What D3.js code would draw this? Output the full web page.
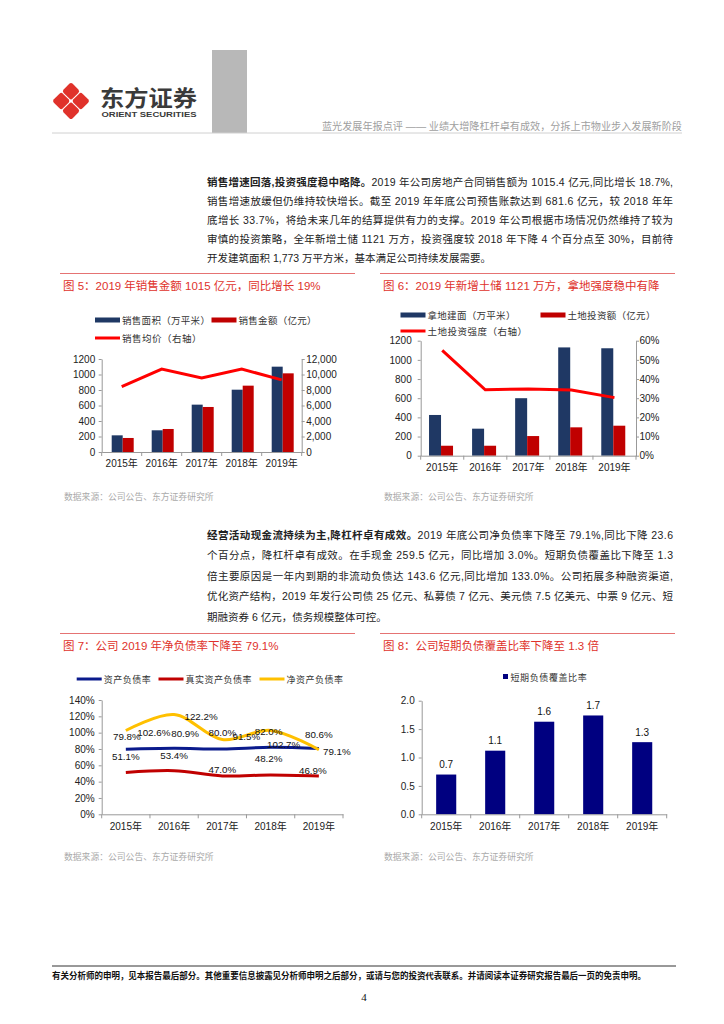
<!DOCTYPE html>
<html>
<head>
<meta charset="utf-8">
<script src="https://cdn.jsdelivr.net/npm/d3@7.9.0/dist/d3.min.js"></script>
<style>
  body { margin: 0; background: #fff; }
  svg { display: block; font-family: "Liberation Sans", Arial, "Noto Sans CJK SC", sans-serif; }
</style>
</head>
<body>
<svg id="page" width="724" height="1024"></svg>
<script>
// ---- data ----
const years = ['2015年', '2016年', '2017年', '2018年', '2019年'];

// fig 5
const salesArea = [215, 280, 611, 804, 1101];      // 万平米
const salesAmount = [181, 297, 581, 856, 1015];    // 亿元
const salesPrice = [8450, 10700, 9550, 10700, 9300]; // 元/平米, right axis

// fig 6
const landArea = [425, 282, 600, 1130, 1121];
const landInvest = [104, 104, 205, 296, 313];
const landIntensity = [0.55, 0.344, 0.348, 0.343, 0.303];

// fig 7
const debtRatio = [79.8, 80.9, 80.0, 82.0, 80.6];
const realDebtRatio = [51.1, 53.4, 47.0, 48.2, 46.9];
const netDebtRatio = [102.6, 122.2, 91.5, 102.7, 79.1];

// fig 8
const coverage = [0.70, 1.12, 1.63, 1.74, 1.27];

const para1 = [
  [['销售增速回落,投资强度稳中略降。', true], ['2019 年公司房地产合同销售额为 1015.4 亿元,同比增长 18.7%,', false]],
  [['销售增速放缓但仍维持较快增长。截至 2019 年年底公司预售账款达到 681.6 亿元，较 2018 年年', false]],
  [['底增长 33.7%，将给未来几年的结算提供有力的支撑。2019 年公司根据市场情况仍然维持了较为', false]],
  [['审慎的投资策略，全年新增土储 1121 万方，投资强度较 2018 年下降 4 个百分点至 30%，目前待', false]],
  [['开发建筑面积 1,773 万平方米，基本满足公司持续发展需要。', false]],
];
const para2 = [
  [['经营活动现金流持续为主,降杠杆卓有成效。', true], ['2019 年底公司净负债率下降至 79.1%,同比下降 23.6', false]],
  [['个百分点，降杠杆卓有成效。在手现金 259.5 亿元，同比增加 3.0%。短期负债覆盖比下降至 1.3', false]],
  [['倍主要原因是一年内到期的非流动负债达 143.6 亿元,同比增加 133.0%。公司拓展多种融资渠道,', false]],
  [['优化资产结构，2019 年发行公司债 25 亿元、私募债 7 亿元、美元债 7.5 亿美元、中票 9 亿元、短', false]],
  [['期融资券 6 亿元，债务规模整体可控。', false]],
];

const svg = d3.select('#page');
const AXIS = '#999';
const TITLE_RED = '#E0322B';

function renderHeader() {
  const logo = svg.append('g').attr('transform', 'translate(71,101)');
  [[0, -1], [1, 0], [0, 1], [-1, 0]].forEach(([dx, dy]) => {
    logo.append('rect')
      .attr('x', -6.4).attr('y', -6.4).attr('width', 12.8).attr('height', 12.8)
      .attr('rx', 2.4)
      .attr('fill', '#E0322B')
      .attr('transform', `translate(${dx * 9.8},${dy * 9.8}) rotate(45)`);
  });
  svg.append('text').attr('x', 100).attr('y', 106)
    .attr('font-size', 22).attr('font-weight', 'bold').attr('fill', '#3a3a3a')
    .attr('textLength', 97).attr('lengthAdjust', 'spacingAndGlyphs')
    .text('东方证券');
  svg.append('text').attr('x', 101.5).attr('y', 117)
    .attr('font-size', 8).attr('font-weight', 'bold').attr('fill', '#3a3a3a')
    .attr('textLength', 95).attr('lengthAdjust', 'spacingAndGlyphs')
    .text('ORIENT SECURITIES');

  svg.append('rect').attr('x', 212).attr('y', 50).attr('width', 35).attr('height', 83).attr('fill', '#b8b8b8');
  svg.append('line').attr('x1', 52).attr('x2', 682).attr('y1', 133).attr('y2', 133)
    .attr('stroke', '#d0d0d0').attr('stroke-width', 1);
  svg.append('text').attr('x', 322).attr('y', 130)
    .attr('font-size', 10).attr('fill', '#a0a0a0')
    .attr('textLength', 360).attr('lengthAdjust', 'spacingAndGlyphs')
    .text('蓝光发展年报点评 —— 业绩大增降杠杆卓有成效，分拆上市物业步入发展新阶段');
}

function renderParagraph(lines, x, y0, step) {
  lines.forEach((parts, i) => {
    const t = svg.append('text').attr('x', x).attr('y', y0 + i * step)
      .attr('font-size', 10.5).attr('fill', '#222');
    if (i < lines.length - 1) t.attr('textLength', 466).attr('lengthAdjust', 'spacing');
    parts.forEach(([s, bold]) => {
      t.append('tspan').attr('font-weight', bold ? 'bold' : 'normal').text(s);
    });
  });
}

function chartFrame(x0, x1, yLine, title, sourceY) {
  svg.append('line').attr('x1', x0).attr('x2', x1).attr('y1', yLine).attr('y2', yLine)
    .attr('stroke', '#E57373').attr('stroke-width', 1);
  svg.append('text').attr('x', x0 + 3).attr('y', yLine + 16)
    .attr('font-size', 11.5).attr('fill', TITLE_RED).text(title);
  svg.append('text').attr('x', x0 + 4).attr('y', sourceY)
    .attr('font-size', 8.8).attr('fill', '#aaa').text('数据来源：公司公告、东方证券研究所');
}

function styleAxis(g) {
  g.select('.domain').attr('stroke', AXIS);
  g.selectAll('.tick line').attr('stroke', AXIS);
  g.selectAll('.tick text').attr('fill', '#222').attr('font-size', 10)
    .attr('font-family', '"Liberation Sans", Arial, "Noto Sans CJK SC", sans-serif');
}

function categoryAxis(x, yBottom, pad) {
  const g = svg.append('g').attr('transform', `translate(0,${yBottom})`)
    .call(d3.axisBottom(x).tickSize(0).tickPadding(pad))
    .call(styleAxis);
  const r = x.range();
  const bounds = d3.range(years.length + 1).map(i => r[0] + i * x.step());
  g.selectAll('.bound').data(bounds).join('line').attr('class', 'bound')
    .attr('x1', d => d).attr('x2', d => d).attr('y1', 0).attr('y2', 4)
    .attr('stroke', AXIS);
  return g;
}

function legendRect(x, y, color, label) {
  svg.append('rect').attr('x', x).attr('y', y).attr('width', 25).attr('height', 5).attr('fill', color);
  svg.append('text').attr('x', x + 27).attr('y', y + 6).attr('font-size', 9.5)
    .attr('letter-spacing', 0.3).attr('fill', '#333').text(label);
}
function legendLine(x, y, color, label, w = 25, fs = 9.5) {
  svg.append('line').attr('x1', x).attr('x2', x + w).attr('y1', y).attr('y2', y)
    .attr('stroke', color).attr('stroke-width', 3);
  svg.append('text').attr('x', x + w + 2).attr('y', y + 3.5).attr('font-size', fs)
    .attr('letter-spacing', 0.5).attr('fill', '#333').text(label);
}

function renderFig5() {
  chartFrame(60, 355, 273.5, '图 5：2019 年销售金额 1015 亿元，同比增长 19%', 500);
  legendRect(95, 317.5, '#1F3864', '销售面积（万平米）');
  legendRect(211.5, 317.5, '#C00000', '销售金额（亿元）');
  legendLine(95, 338, '#FF0000', '销售均价（右轴）');

  const m = { left: 101.7, right: 301.7, top: 359, bottom: 452 };
  const x = d3.scaleBand().domain(years).range([m.left, m.right]);
  const x1 = d3.scaleBand().domain(['area', 'amount']).range([-10, 12]);
  const yL = d3.scaleLinear().domain([0, 1200]).range([m.bottom, m.top]);
  const yR = d3.scaleLinear().domain([0, 12000]).range([m.bottom, m.top]);

  svg.append('g').attr('transform', `translate(${m.left},0)`)
    .call(d3.axisLeft(yL).tickValues(d3.range(0, 1201, 200)).tickFormat(d3.format('d')).tickSize(3).tickSizeOuter(0).tickPadding(3.5))
    .call(styleAxis);
  svg.append('g').attr('transform', `translate(${m.right},0)`)
    .call(d3.axisRight(yR).tickValues(d3.range(0, 12001, 2000)).tickFormat(d3.format(',')).tickSize(3).tickSizeOuter(0).tickPadding(1.5))
    .call(styleAxis);

  const cx = d => x(d) + x.bandwidth() / 2;
  svg.append('g').selectAll('rect').data(years).join('rect')
    .attr('x', d => cx(d) + x1('area')).attr('width', x1.bandwidth())
    .attr('y', (d, i) => yL(salesArea[i])).attr('height', (d, i) => m.bottom - yL(salesArea[i]))
    .attr('fill', '#1F3864');
  svg.append('g').selectAll('rect').data(years).join('rect')
    .attr('x', d => cx(d) + x1('amount')).attr('width', x1.bandwidth())
    .attr('y', (d, i) => yL(salesAmount[i])).attr('height', (d, i) => m.bottom - yL(salesAmount[i]))
    .attr('fill', '#C00000');

  categoryAxis(x, m.bottom, 8);

  svg.append('path').datum(years)
    .attr('fill', 'none').attr('stroke', '#FF0000').attr('stroke-width', 3)
    .attr('d', d3.line().x(d => cx(d)).y((d, i) => yR(salesPrice[i])));
}

function renderFig6() {
  chartFrame(380, 675, 273.5, '图 6：2019 年新增土储 1121 万方，拿地强度稳中有降', 500);
  legendRect(400.5, 312.5, '#1F3864', '拿地建面（万平米）');
  legendRect(540.5, 312.5, '#C00000', '土地投资额（亿元）');
  legendLine(400.5, 331, '#FF0000', '土地投资强度（右轴）');

  const m = { left: 420.7, right: 636, top: 340.7, bottom: 455.7 };
  const x = d3.scaleBand().domain(years).range([m.left, m.right]);
  const x1 = d3.scaleBand().domain(['area', 'invest']).range([-13.2, 10.8]);
  const yL = d3.scaleLinear().domain([0, 1200]).range([m.bottom, m.top]);
  const yR = d3.scaleLinear().domain([0, 0.6]).range([m.bottom, m.top]);

  svg.append('g').attr('transform', `translate(${m.left},0)`)
    .call(d3.axisLeft(yL).tickValues(d3.range(0, 1201, 200)).tickFormat(d3.format('d')).tickSize(3).tickSizeOuter(0).tickPadding(6))
    .call(styleAxis);
  svg.append('g').attr('transform', `translate(${m.right},0)`)
    .call(d3.axisRight(yR).tickValues(d3.range(0, 0.61, 0.1)).tickFormat(d3.format('.0%')).tickSize(3).tickSizeOuter(0).tickPadding(0.5))
    .call(styleAxis);

  const cx = d => x(d) + x.bandwidth() / 2;
  svg.append('g').selectAll('rect').data(years).join('rect')
    .attr('x', d => cx(d) + x1('area')).attr('width', x1.bandwidth())
    .attr('y', (d, i) => yL(landArea[i])).attr('height', (d, i) => m.bottom - yL(landArea[i]))
    .attr('fill', '#1F3864');
  svg.append('g').selectAll('rect').data(years).join('rect')
    .attr('x', d => cx(d) + x1('invest')).attr('width', x1.bandwidth())
    .attr('y', (d, i) => yL(landInvest[i])).attr('height', (d, i) => m.bottom - yL(landInvest[i]))
    .attr('fill', '#C00000');

  categoryAxis(x, m.bottom, 8.5);

  svg.append('path').datum(years)
    .attr('fill', 'none').attr('stroke', '#FF0000').attr('stroke-width', 3)
    .attr('d', d3.line().x(d => cx(d)).y((d, i) => yR(landIntensity[i])));
}

function renderFig7() {
  chartFrame(60, 355, 633.5, '图 7：公司 2019 年净负债率下降至 79.1%', 860);
  legendLine(76.7, 679, '#0A1A8C', '资产负债率', 25, 9);
  legendLine(158.5, 679, '#C00000', '真实资产负债率', 25, 9);
  legendLine(259.5, 679, '#FFC000', '净资产负债率', 25, 9);

  const m = { left: 101.7, right: 343, top: 700, bottom: 814.3 };
  const x = d3.scaleBand().domain(years).range([m.left, m.right]);
  const y = d3.scaleLinear().domain([0, 140]).range([m.bottom, m.top]);
  const cx = d => x(d) + x.bandwidth() / 2;

  svg.append('g').attr('transform', `translate(${m.left},0)`)
    .call(d3.axisLeft(y).tickValues(d3.range(0, 141, 20)).tickFormat(d => d + '%').tickSize(3).tickSizeOuter(0).tickPadding(4))
    .call(styleAxis);
  categoryAxis(x, m.bottom, 9);

  // label nudges (dx, dy) as placed in the source chart
  const series = [
    { values: debtRatio, color: '#0A1A8C', nudge: [[1, -13], [11, -15], [0, -16], [-2, -16], [0, -14]] },
    { values: realDebtRatio, color: '#C00000', nudge: [[0, -16], [0, -15], [0, -6], [-2, -16], [-6, -6]] },
    { values: netDebtRatio, color: '#FFC000', nudge: [[28, 2], [27, 1.5], [24, -3], [13, 14.5], [18, 2]] },
  ];
  const line = d3.line().curve(d3.curveCatmullRom.alpha(0.5));
  series.forEach(s => {
    svg.append('path')
      .attr('fill', 'none').attr('stroke', s.color).attr('stroke-width', 3)
      .attr('d', line(years.map((d, i) => [cx(d), y(s.values[i])])));
  });
  series.forEach(s => {
    svg.append('g').selectAll('text').data(years).join('text')
      .attr('x', (d, i) => cx(d) + s.nudge[i][0])
      .attr('y', (d, i) => y(s.values[i]) + s.nudge[i][1] + 3.5)
      .attr('text-anchor', 'middle').attr('font-size', 9.8).attr('fill', '#111')
      .text((d, i) => s.values[i].toFixed(1) + '%');
  });
}

function renderFig8() {
  chartFrame(380, 675, 633.5, '图 8：公司短期负债覆盖比率下降至 1.3 倍', 860);
  svg.append('rect').attr('x', 503).attr('y', 674).attr('width', 5).attr('height', 5).attr('fill', '#000080');
  svg.append('text').attr('x', 510.5).attr('y', 680.5).attr('font-size', 9)
    .attr('letter-spacing', 0.6).attr('fill', '#333').text('短期负债覆盖比率');

  const m = { left: 421.7, right: 666.7, top: 700.7, bottom: 814.3 };
  const x = d3.scaleBand().domain(years).range([m.left, m.right]).paddingInner(0.59).paddingOuter(0.295);
  const y = d3.scaleLinear().domain([0, 2]).range([m.bottom, m.top]);

  svg.append('g').attr('transform', `translate(${m.left},0)`)
    .call(d3.axisLeft(y).tickValues(d3.range(0, 2.01, 0.5)).tickFormat(d3.format('.1f')).tickSize(3).tickSizeOuter(0).tickPadding(4))
    .call(styleAxis);

  svg.append('g').selectAll('rect').data(years).join('rect')
    .attr('x', d => x(d)).attr('width', x.bandwidth())
    .attr('y', (d, i) => y(coverage[i])).attr('height', (d, i) => m.bottom - y(coverage[i]))
    .attr('fill', '#000080');
  svg.append('g').selectAll('text').data(years).join('text')
    .attr('x', d => x(d) + x.bandwidth() / 2).attr('y', (d, i) => y(coverage[i]) - 6.5)
    .attr('text-anchor', 'middle').attr('font-size', 10).attr('fill', '#111')
    .text((d, i) => d3.format('.1f')(coverage[i]));

  const xb = d3.scaleBand().domain(years).range([m.left, m.right]);
  categoryAxis(xb, m.bottom, 9);
}

function renderFooter() {
  svg.append('line').attr('x1', 52).attr('x2', 676).attr('y1', 966).attr('y2', 966)
    .attr('stroke', '#333').attr('stroke-width', 1);
  svg.append('text').attr('x', 52).attr('y', 979).attr('font-size', 8.6).attr('font-weight', 'bold')
    .attr('fill', '#111').attr('textLength', 594).attr('lengthAdjust', 'spacingAndGlyphs')
    .text('有关分析师的申明，见本报告最后部分。其他重要信息披露见分析师申明之后部分，或请与您的投资代表联系。并请阅读本证券研究报告最后一页的免责申明。');
  svg.append('text').attr('x', 364).attr('y', 1001).attr('text-anchor', 'middle')
    .attr('font-size', 11).attr('font-family', '"Liberation Serif", serif').attr('fill', '#111').text('4');
}

svg.append('rect').attr('width', 724).attr('height', 1024).attr('fill', '#fff');
renderHeader();
renderParagraph(para1, 207, 186, 19);
renderParagraph(para2, 207, 538.5, 20.5);
renderFig5();
renderFig6();
renderFig7();
renderFig8();
renderFooter();
</script>
</body>
</html>
